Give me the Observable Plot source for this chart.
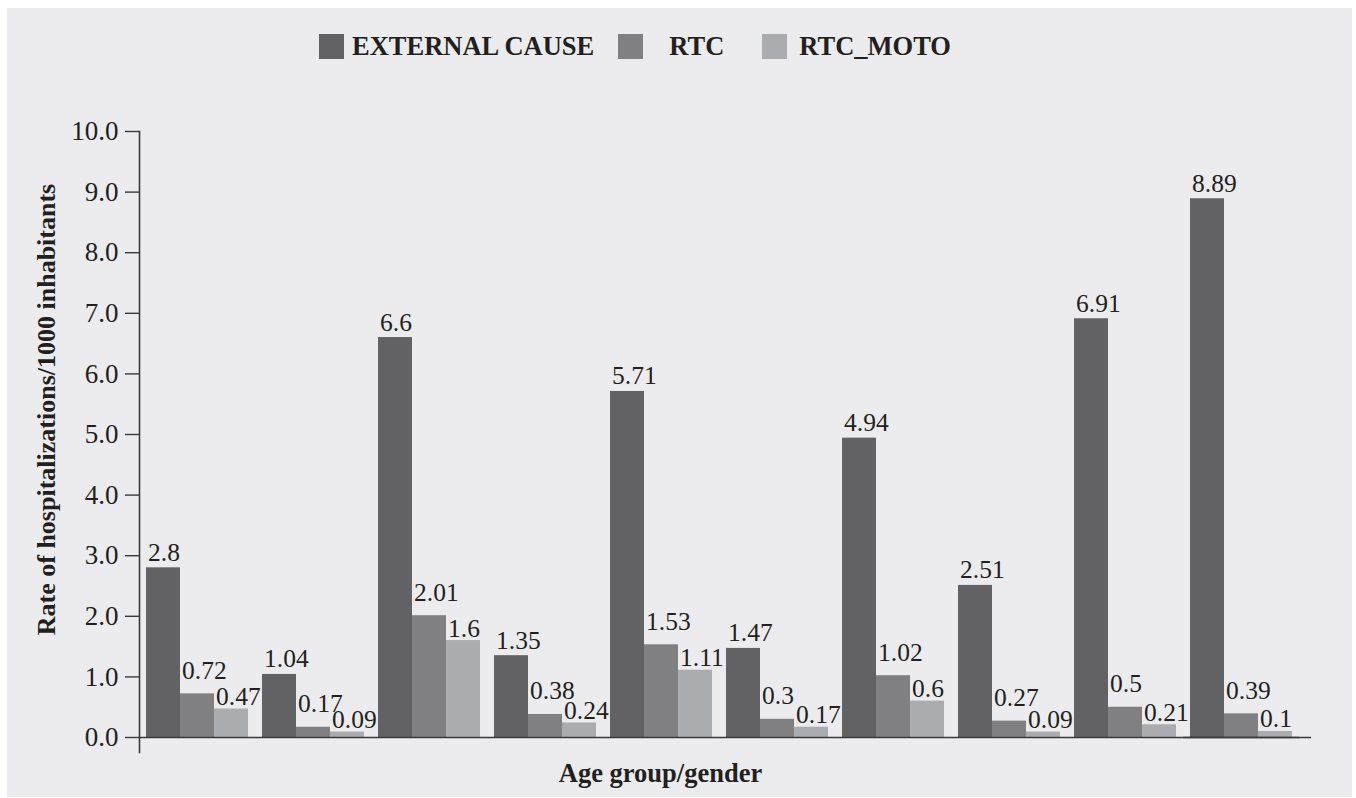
<!DOCTYPE html>
<html>
<head>
<meta charset="utf-8">
<script src="https://cdn.jsdelivr.net/npm/d3@7"></script>
<script src="https://cdn.jsdelivr.net/npm/@observablehq/plot@0.6"></script>
<style>
  html, body { margin: 0; padding: 0; background: #ffffff; }
  #panel {
    position: absolute; left: 7px; top: 8px; width: 1345px; height: 789px;
    background: #ececee; overflow: hidden;
    font-family: "Liberation Serif", "Times New Roman", serif; color: #231f20;
  }
  #legend {
    box-sizing: border-box; height: 72px; padding-top: 5px; padding-left: 312px;
    display: flex; align-items: center;
    font-weight: bold; font-size: 26.5px;
  }
  #legend .sw { width: 25px; height: 25px; flex: none; }
  #legend span { white-space: nowrap; }
  #chart svg { display: block; }
</style>
</head>
<body>
<div id="panel">
  <div id="legend"></div>
  <div id="chart"></div>
</div>
<script>
// ---- data ----
const groups = ["1", "2", "3", "4", "5", "6", "7", "8", "9", "10"];
const seriesNames = ["EXTERNAL CAUSE", "RTC", "RTC_MOTO"];
const externalCause = [2.8, 1.04, 6.6, 1.35, 5.71, 1.47, 4.94, 2.51, 6.91, 8.89];
const rtc = [0.72, 0.17, 2.01, 0.38, 1.53, 0.3, 1.02, 0.27, 0.5, 0.39];
const rtcMoto = [0.47, 0.09, 1.6, 0.24, 1.11, 0.17, 0.6, 0.09, 0.21, 0.1];
const yTicks = [0, 1, 2, 3, 4, 5, 6, 7, 8, 9, 10];
const colors = ["#626264", "#808083", "#abacaf"];
const yTitle = "Rate of hospitalizations/1000 inhabitants";
const xTitle = "Age group/gender";

const seriesValues = [externalCause, rtc, rtcMoto];
const rows = [];
groups.forEach((g, i) => {
  seriesNames.forEach((s, j) => rows.push({group: g, series: s, value: seriesValues[j][i]}));
});

// ---- legend ----
const legend = document.getElementById("legend");
const legendGaps = [[8, 24], [26, 38], [12, 0]]; // [swatch->text, text->next]
seriesNames.forEach((s, j) => {
  const sw = document.createElement("div");
  sw.className = "sw";
  sw.style.background = colors[j];
  sw.style.marginRight = legendGaps[j][0] + "px";
  const t = document.createElement("span");
  t.textContent = s;
  t.style.marginRight = legendGaps[j][1] + "px";
  legend.appendChild(sw);
  legend.appendChild(t);
});

// ---- chart ----
const axisColor = "#3a3a3c";
const labelLift = {"EXTERNAL CAUSE": -7, "RTC": -15, "RTC_MOTO": -4};
const chart = Plot.plot({
  width: 1345,
  height: 717,
  marginLeft: 130,
  marginRight: 51,
  marginTop: 51,
  marginBottom: 60,
  style: {background: "transparent", fontFamily: "Liberation Serif, Times New Roman, serif", color: "#231f20", overflow: "visible"},
  fx: {domain: groups, padding: 0, axis: null},
  x: {domain: seriesNames, paddingInner: 0, paddingOuter: 0.173, axis: null},
  y: {domain: [0, 10], axis: null},
  color: {domain: seriesNames, range: colors},
  marks: [
    Plot.barY(rows, {fx: "group", x: "series", y: "value", fill: "series"}),
    Plot.ruleY([0], {stroke: axisColor, strokeWidth: 1.6}),
    Plot.ruleY([0], {stroke: axisColor, strokeWidth: 1.6, facetAnchor: "right", insetRight: -12}),
    Plot.frame({anchor: "left", facetAnchor: "left", insetBottom: -15, stroke: axisColor, strokeWidth: 1.6}),
    Plot.axisY({
      anchor: "left", ticks: yTicks, tickFormat: d3.format(".1f"),
      tickSize: 14, tickPadding: 7, fontSize: 27, label: null, stroke: axisColor, strokeWidth: 1.4
    }),
    ...seriesNames.map(s => Plot.text(rows.filter(d => d.series === s), {
      fx: "group", x: "series", y: "value", text: d => String(d.value),
      textAnchor: "start", lineAnchor: "bottom", dx: -15.5, dy: labelLift[s], fontSize: 25.5, fill: "#231f20"
    })),
    Plot.text([yTitle], {
      frameAnchor: "left", facetAnchor: "left", rotate: -90, textAnchor: "middle", dx: -93, dy: -25,
      fontWeight: "bold", fontSize: 26, fill: "#231f20"
    }),
    Plot.text([xTitle], {
      facet: "super", frameAnchor: "bottom", dx: -59, dy: 44,
      fontWeight: "bold", fontSize: 26.5, fill: "#231f20"
    })
  ]
});
document.getElementById("chart").appendChild(chart);
</script>
</body>
</html>
